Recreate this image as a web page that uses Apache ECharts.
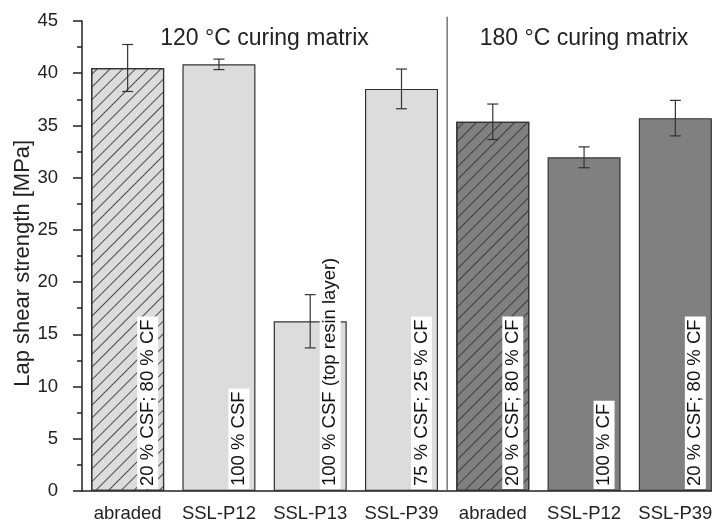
<!DOCTYPE html>
<html>
<head>
<meta charset="utf-8">
<script src="https://cdn.jsdelivr.net/npm/echarts@6/dist/echarts.min.js"></script>
<style>html,body{margin:0;padding:0;background:#fff}#c{width:712px;height:526px}</style>
</head>
<body>
<div id="c"></div>
<script>
var categories = ['abraded', 'SSL-P12', 'SSL-P13', 'SSL-P39', 'abraded', 'SSL-P12', 'SSL-P39'];
var means = [40.5, 40.85, 16.25, 38.5, 35.35, 31.95, 35.7];
var errors = [2.25, 0.5, 2.55, 1.9, 1.7, 1.0, 1.7];
var barLabels = ['20 % CSF; 80 % CF', '100 % CSF', '100 % CSF (top resin layer)', '75 % CSF; 25 % CF', '20 % CSF; 80 % CF', '100 % CF', '20 % CSF; 80 % CF'];
var groupOf = [0, 0, 0, 0, 1, 1, 1];
var hatched = [true, false, false, false, true, false, false];
var groupTitles = ['120 °C curing matrix', '180 °C curing matrix'];
var groupFill = ['#dcdcdc', '#808080'];
var yTicks = [0, 5, 10, 15, 20, 25, 30, 35, 40, 45];
var yName = 'Lap shear strength [MPa]';

var FONT = 'Liberation Sans, Arial, sans-serif';
var chart = echarts.init(document.getElementById('c'), null, {renderer: 'canvas'});

var barData = means.map(function (v, i) {
  var st = {color: groupFill[groupOf[i]], borderColor: '#333', borderWidth: 1.2};
  if (hatched[i]) {
    st.decal = {
      symbol: 'rect', symbolSize: 1, color: 'rgba(50,50,50,0.85)',
      dashArrayX: [1, 0], dashArrayY: [1, 8], rotation: -Math.PI / 4
    };
  }
  return {value: v, itemStyle: st};
});
var errData = means.map(function (v, i) { return [i, v - errors[i], v + errors[i]]; });

chart.setOption({
  animation: false,
  aria: {enabled: false, decal: {show: false}},
  grid: {left: 82, top: 21, width: 639, bottom: 35, containLabel: false, outerBoundsMode: 'none'},
  xAxis: [{
    type: 'category', data: categories, boundaryGap: true,
    axisLine: {lineStyle: {color: '#222', width: 1.5}},
    axisTick: {alignWithLabel: true, length: 9, lineStyle: {color: '#222', width: 1.5}},
    axisLabel: {color: '#222', fontSize: 18.5, fontFamily: FONT, margin: 13, interval: 0, hideOverlap: false}
  }, {
    type: 'category', data: categories, position: 'bottom', boundaryGap: true,
    axisLine: {show: false},
    axisTick: {length: 5, lineStyle: {color: '#222', width: 1.5}},
    axisLabel: {show: false}
  }],
  yAxis: {
    type: 'value', min: yTicks[0], max: yTicks[yTicks.length - 1], interval: 5,
    axisLine: {show: true, lineStyle: {color: '#222', width: 1.5}},
    axisTick: {show: true, length: 9, lineStyle: {color: '#222', width: 1.5}},
    minorTick: {show: true, splitNumber: 2, length: 5, lineStyle: {color: '#222', width: 1.5}},
    splitLine: {show: false},
    axisLabel: {color: '#222', fontSize: 18.5, fontFamily: FONT, margin: 24}
  },
  series: [{
    type: 'bar', data: barData, barWidth: '80%', xAxisIndex: 0,
    label: {
      show: true, position: 'insideBottom', rotate: 90, align: 'left', verticalAlign: 'middle',
      distance: 2, offset: [0, 20],
      formatter: function (p) { return barLabels[p.dataIndex]; },
      backgroundColor: '#fff', padding: [1, 3, 1, 3], lineHeight: 19,
      color: '#111', fontSize: 18.5, fontFamily: FONT
    }
  }, {
    type: 'custom', xAxisIndex: 0, data: errData, z: 5,
    renderItem: function (params, api) {
      var x = api.value(0);
      var lo = api.coord([x, api.value(1)]);
      var hi = api.coord([x, api.value(2)]);
      var cap = 5.5;
      var ls = {stroke: '#333', lineWidth: 1.2};
      return {type: 'group', children: [
        {type: 'line', shape: {x1: lo[0], y1: lo[1], x2: hi[0], y2: hi[1]}, style: ls},
        {type: 'line', shape: {x1: lo[0] - cap, y1: lo[1], x2: lo[0] + cap, y2: lo[1]}, style: ls},
        {type: 'line', shape: {x1: hi[0] - cap, y1: hi[1], x2: hi[0] + cap, y2: hi[1]}, style: ls}
      ]};
    }
  }]
});

// group titles, y-axis name and separator, placed via the axes
var c3 = chart.convertToPixel({xAxisIndex: 0}, 3);
var c4 = chart.convertToPixel({xAxisIndex: 0}, 4);
var sepX = (c3 + c4) / 2;
var yTop = chart.convertToPixel({yAxisIndex: 0}, 45.4);
var yBot = chart.convertToPixel({yAxisIndex: 0}, 0);
var yTitle = chart.convertToPixel({yAxisIndex: 0}, 43.3);
var yNameY = chart.convertToPixel({yAxisIndex: 0}, 21.8);
var g0 = (chart.convertToPixel({xAxisIndex: 0}, 0) + chart.convertToPixel({xAxisIndex: 0}, 3)) / 2;
var g1 = chart.convertToPixel({xAxisIndex: 0}, 5);
chart.setOption({
  graphic: [
    {type: 'line', shape: {x1: sepX, y1: yTop, x2: sepX, y2: yBot}, style: {stroke: '#555', lineWidth: 1.2}, z: 10},
    {type: 'text', x: g0, y: yTitle, style: {text: groupTitles[0], fill: '#222', font: '23px ' + FONT, textAlign: 'center', textVerticalAlign: 'middle'}, z: 10},
    {type: 'text', x: g1, y: yTitle, style: {text: groupTitles[1], fill: '#222', font: '23px ' + FONT, textAlign: 'center', textVerticalAlign: 'middle'}, z: 10},
    {type: 'text', x: 23, y: yNameY, rotation: Math.PI / 2, style: {text: yName, fill: '#222', font: '22px ' + FONT, textAlign: 'center', textVerticalAlign: 'middle'}, z: 10}
  ]
});
</script>
</body>
</html>
